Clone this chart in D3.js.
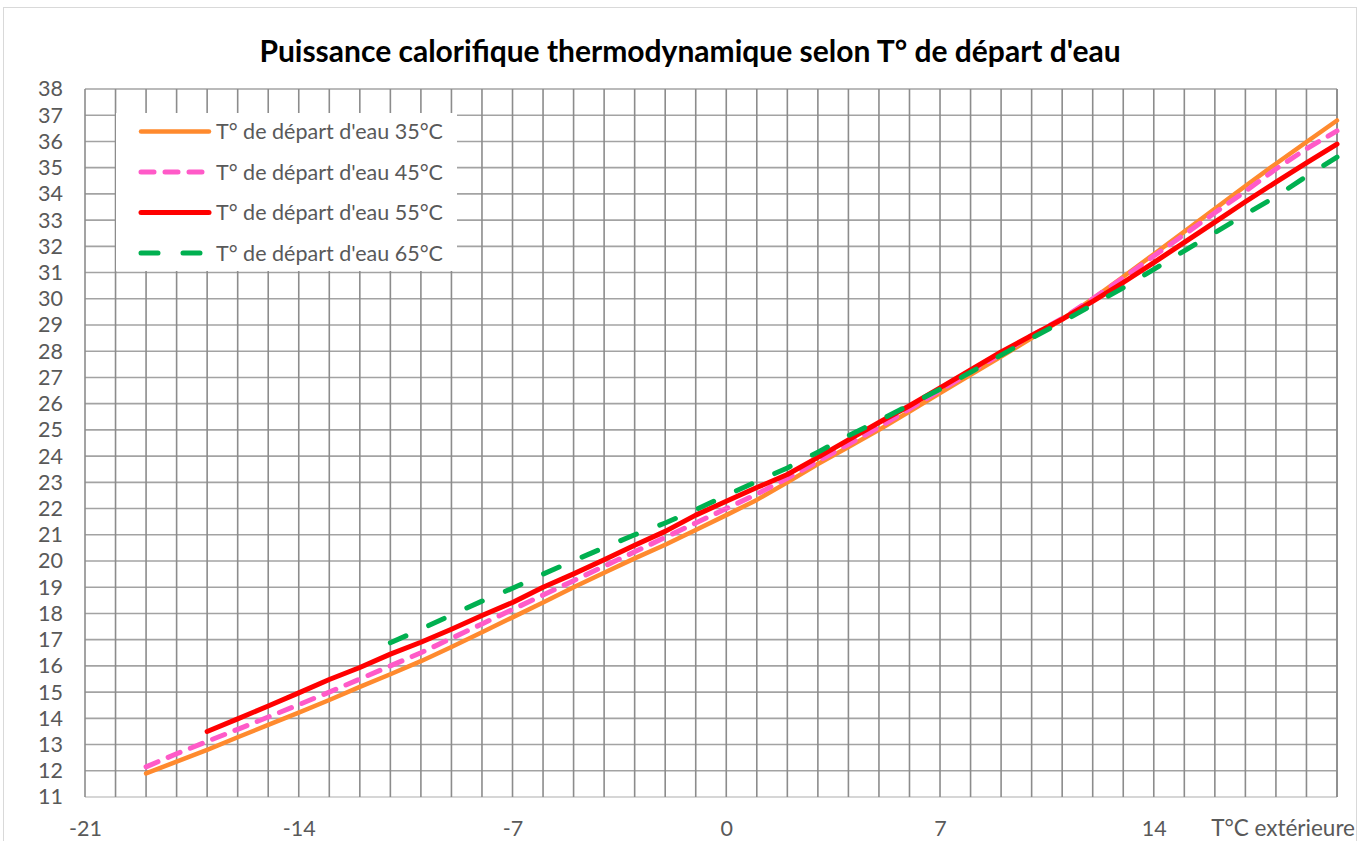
<!DOCTYPE html>
<html lang="fr">
<head>
<meta charset="utf-8">
<title>Puissance calorifique thermodynamique</title>
<script src="https://cdn.jsdelivr.net/npm/d3@7/dist/d3.min.js"></script>
<style>
  html, body { margin: 0; padding: 0; background: #fff; }
  svg { display: block; }
  text { font-family: Lato, "Open Sans", sans-serif; }
</style>
</head>
<body>
<svg id="chart" width="1360" height="841"></svg>
<script>
// Outdoor temperature (°C) for each sample
const temperatures = [-19, -18, -17, -16, -15, -14, -13, -12, -11, -10, -9, -8, -7, -6, -5, -4, -3, -2, -1, 0,
  1, 2, 3, 4, 5, 6, 7, 8, 9, 10, 11, 12, 13, 14, 15, 16, 17, 18, 19, 20];

// Heating output (kW) per water flow temperature; null where no value exists
const flow35 = [11.9, 12.35, 12.8, 13.28, 13.75, 14.22, 14.7, 15.2, 15.68, 16.18, 16.72, 17.28, 17.85, 18.42, 19.0, 19.55, 20.1, 20.62, 21.18, 21.75,
  22.33, 23.0, 23.7, 24.35, 25.0, 25.7, 26.4, 27.1, 27.8, 28.5, 29.22, 30.0, 30.84, 31.7, 32.56, 33.43, 34.3, 35.15, 35.98, 36.8];
const flow45 = [12.15, 12.65, 13.12, 13.58, 14.05, 14.52, 15.0, 15.5, 16.0, 16.5, 17.05, 17.6, 18.15, 18.7, 19.25, 19.8, 20.35, 20.9, 21.45, 22.0,
  22.55, 23.15, 23.8, 24.45, 25.1, 25.8, 26.5, 27.2, 27.9, 28.6, 29.25, 30.0, 30.8, 31.63, 32.45, 33.28, 34.1, 34.95, 35.72, 36.4];
const flow55 = [null, null, 13.5, 13.98, 14.47, 14.97, 15.48, 15.94, 16.45, 16.9, 17.4, 17.92, 18.42, 19.0, 19.51, 20.05, 20.6, 21.13, 21.75, 22.28,
  22.8, 23.3, 23.95, 24.62, 25.28, 25.92, 26.6, 27.29, 27.97, 28.6, 29.22, 29.9, 30.62, 31.38, 32.15, 32.92, 33.7, 34.45, 35.18, 35.9];
const flow65 = [null, null, null, null, null, null, null, null, 16.88, 17.4, 17.94, 18.47, 18.96, 19.5, 20.01, 20.51, 21.0, 21.45, 21.96, 22.5,
  23.03, 23.55, 24.15, 24.78, 25.35, 25.95, 26.55, 27.2, 27.85, 28.5, 29.12, 29.77, 30.42, 31.12, 31.83, 32.52, 33.22, 33.9, 34.67, 35.4];

const seriesNames = ["T° de départ d'eau 35°C", "T° de départ d'eau 45°C", "T° de départ d'eau 55°C", "T° de départ d'eau 65°C"];
const xTickValues = [-21, -14, -7, 0, 7, 14];
const yTickValues = d3.range(11, 39);
const xGridValues = d3.range(-21, 21);

const title = "Puissance calorifique thermodynamique selon T° de départ d'eau";
const xAxisTitle = "T°C extérieure";

const seriesStyles = [
  { color: "#ff8a2e", width: 4.5, dash: null },
  { color: "#ff5ac8", width: 5, dash: "13,11" },
  { color: "#ff0000", width: 5, dash: null },
  { color: "#00b050", width: 5, dash: "17,25" }
];
const seriesValues = [flow35, flow45, flow55, flow65];

const fmt = d => String(d);  // plain hyphen for negatives
const labelSize = 21.5;

const svg = d3.select("#chart");

// chart frame
svg.append("rect")
  .attr("x", 3.5).attr("y", 7.5).attr("width", 1353).attr("height", 840)
  .attr("fill", "#fff").attr("stroke", "#d9d9d9").attr("stroke-width", 1);

const x = d3.scaleLinear().domain([-21, 20]).range([85, 1337]);
const y = d3.scaleLinear().domain([11, 38]).range([797, 89]);

// grid
const grid = svg.append("g");
grid.selectAll("line.h").data(yTickValues).join("line")
  .attr("class", "h")
  .attr("x1", x(-21)).attr("x2", x(20))
  .attr("y1", d => y(d)).attr("y2", d => y(d))
  .attr("stroke", d => d === 11 ? "#c8c8c8" : "#a3a3a3").attr("stroke-width", 1.6);
grid.selectAll("line.v").data(xGridValues).join("line")
  .attr("class", "v")
  .attr("x1", d => x(d)).attr("x2", d => x(d))
  .attr("y1", y(11)).attr("y2", y(38))
  .attr("stroke", "#8c8c8c").attr("stroke-width", 1.6);
grid.append("line")
  .attr("x1", x(20)).attr("x2", x(20)).attr("y1", y(11)).attr("y2", y(38))
  .attr("stroke", "#8c8c8c").attr("stroke-width", 1.6);

// y axis labels
const yAxis = d3.axisLeft(y).tickValues(yTickValues).tickSize(0).tickPadding(0).tickFormat(fmt);
const gy = svg.append("g").attr("transform", `translate(${x(-21) - 22},0)`).call(yAxis);
gy.select(".domain").remove();
gy.selectAll("text").attr("font-size", labelSize).attr("fill", "#595959")
  .attr("font-family", "Lato, sans-serif");

// x axis labels
const xAxis = d3.axisBottom(x).tickValues(xTickValues).tickSize(0).tickPadding(0).tickFormat(fmt);
const gx = svg.append("g").attr("transform", `translate(0,836)`).call(xAxis);
gx.select(".domain").remove();
gx.selectAll("text").attr("font-size", labelSize).attr("fill", "#595959")
  .attr("font-family", "Lato, sans-serif").attr("dy", "0").attr("y", 0);

svg.append("text")
  .attr("x", 1355).attr("y", 836)
  .attr("text-anchor", "end")
  .attr("font-size", labelSize + 1).attr("fill", "#595959")
  .text(xAxisTitle);

// title
svg.append("text")
  .attr("x", 690).attr("y", 62)
  .attr("text-anchor", "middle")
  .attr("font-size", 30).attr("font-weight", "bold").attr("fill", "#000")
  .text(title);

// series
const line = d3.line()
  .defined(d => d[1] !== null)
  .x(d => x(d[0]))
  .y(d => y(d[1]));

const plot = svg.append("g");
seriesValues.forEach((vals, i) => {
  const st = seriesStyles[i];
  plot.append("path")
    .datum(temperatures.map((t, k) => [t, vals[k]]))
    .attr("d", line)
    .attr("fill", "none")
    .attr("stroke", st.color)
    .attr("stroke-width", st.width)
    .attr("stroke-linecap", "round")
    .attr("stroke-linejoin", "round")
    .attr("stroke-dasharray", st.dash);
});

// legend
const legend = svg.append("g");
legend.append("rect")
  .attr("x", 116).attr("y", 113).attr("width", 341).attr("height", 158)
  .attr("fill", "#fff");
const rowY = [131.5, 172, 212.5, 253];
seriesNames.forEach((name, i) => {
  const st = seriesStyles[i];
  legend.append("line")
    .attr("x1", 141).attr("x2", 209)
    .attr("y1", rowY[i]).attr("y2", rowY[i])
    .attr("stroke", st.color)
    .attr("stroke-width", st.width)
    .attr("stroke-linecap", "round")
    .attr("stroke-dasharray", st.dash);
  legend.append("text")
    .attr("x", 216).attr("y", rowY[i])
    .attr("dy", "0.35em")
    .attr("font-size", labelSize).attr("fill", "#595959")
    .text(name);
});
</script>
</body>
</html>
